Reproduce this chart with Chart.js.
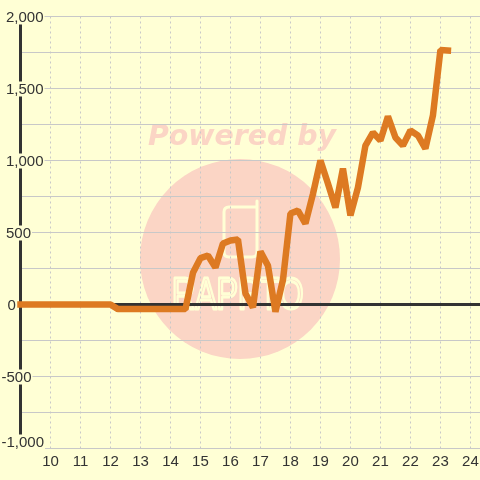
<!DOCTYPE html>
<html>
<head>
<meta charset="utf-8">
<style>
  html, body { margin: 0; padding: 0; background: #ffffd5; }
  #chartWrap { width: 480px; height: 480px; }
</style>
<script src="https://cdn.jsdelivr.net/npm/chart.js@4"></script>
</head>
<body>
<div id="chartWrap"><canvas id="priceChart" width="480" height="480"></canvas></div>
<script>
const hours = [
  9, 9.25, 9.5, 9.75, 10, 10.25, 10.5, 10.75, 11, 11.25, 11.5, 11.75,
  12, 12.25, 12.5, 12.75, 13, 13.25, 13.5, 13.75, 14, 14.25, 14.5, 14.75,
  15, 15.25, 15.5, 15.75, 16, 16.25, 16.5, 16.75, 17, 17.25, 17.5, 17.75,
  18, 18.25, 18.5, 18.75, 19, 19.25, 19.5, 19.75, 20, 20.25, 20.5, 20.75,
  21, 21.25, 21.5, 21.75, 22, 22.25, 22.5, 22.75, 23, 23.25
];
const profit = [
  0, 0, 0, 0, 0, 0, 0, 0, 0, 0, 0, 0,
  0, -32, -32, -32, -32, -32, -32, -32, -32, -32, -32, 220,
  322, 340, 257, 423, 444, 451, 76, -20, 368, 270, -50, 170,
  632, 652, 562, 767, 1000, 840, 673, 944, 618, 812, 1104, 1194,
  1139, 1306, 1160, 1104, 1208, 1174, 1083, 1312, 1767, 1764
];
const xTickLabels = ['10', '11', '12', '13', '14', '15', '16', '17', '18', '19', '20', '21', '22', '23', '24'];
const yTickValues = [2000, 1500, 1000, 500, 0, -500, -1000];
const yTickLabels = ['2,000', '1,500', '1,000', '500', '0', '-500', '-1,000'];

const PAGE_BG = '#ffffd5';
const GRID = '#c8c8c8';
const INK = '#333333';
const LABEL_FONT = '15px "Liberation Sans", Arial, sans-serif';
const MARK = '#fbd5c5';

// Watermark sits behind the grid
const watermark = {
  id: 'watermark',
  beforeDraw(chart) {
    const c = chart.ctx;
    c.save();
    c.fillStyle = PAGE_BG;
    c.fillRect(0, 0, chart.width, chart.height);
    c.fillStyle = MARK;
    c.beginPath();
    c.arc(240, 259, 100, 0, Math.PI * 2);
    c.fill();
    c.font = 'italic bold 28.4px "DejaVu Sans", sans-serif';
    c.textAlign = 'left';
    c.textBaseline = 'alphabetic';
    c.fillText('Powered by', 148, 145);
    c.strokeStyle = PAGE_BG;
    c.lineWidth = 3;
    c.lineJoin = 'round';
    c.lineCap = 'round';
    c.beginPath();
    c.moveTo(257, 201);
    c.lineTo(257, 252);
    c.quadraticCurveTo(257, 257, 252, 257);
    c.lineTo(229, 257);
    c.quadraticCurveTo(224, 257, 224, 252);
    c.lineTo(224, 212);
    c.quadraticCurveTo(224, 207, 229, 207);
    c.lineTo(257, 207);
    c.stroke();
    // logo lettering is tall and narrow
    c.translate(172, 309);
    c.scale(0.73, 1);
    c.font = '44px "Liberation Sans", sans-serif';
    c.lineWidth = 3;
    c.strokeText('RAPPTO', 0, 0);
    c.restore();
  }
};

// Y labels carry their own background box, which cuts the axis and the grid
const yLabels = {
  id: 'yLabels',
  beforeDatasetsDraw(chart) {
    const c = chart.ctx;
    const y = chart.scales.y;
    c.save();
    c.font = LABEL_FONT;
    c.textBaseline = 'middle';
    c.textAlign = 'left';
    yTickValues.forEach(function (v, i) {
      const text = yTickLabels[i];
      let py = y.getPixelForValue(v);
      if (v === y.min) py -= 7;
      const negative = text.charAt(0) === '-';
      const left = negative ? 1.5 : (text.length === 1 ? 7.5 : 6);
      const w = c.measureText(text).width;
      c.fillStyle = PAGE_BG;
      c.fillRect(left - 1, py - 7, w + 2, 15);
      c.fillStyle = INK;
      c.fillText(text, left, py + 1);
    });
    c.restore();
  }
};

document.addEventListener('DOMContentLoaded', function () {
  const ctx = document.getElementById('priceChart').getContext('2d');
  new Chart(ctx, {
    type: 'line',
    plugins: [watermark, yLabels],
    data: {
      datasets: [{
        data: hours.map(function (h, i) { return { x: h, y: profit[i] }; }),
        borderColor: '#dd7a22',
        borderWidth: 6.5,
        borderCapStyle: 'square',
        borderJoinStyle: 'bevel',
        pointRadius: 0,
        tension: 0,
        fill: false,
        clip: false
      }]
    },
    options: {
      responsive: false,
      animation: false,
      layout: { padding: { top: 16.5, left: 0, right: 0, bottom: 0 } },
      plugins: { legend: { display: false }, tooltip: { enabled: false } },
      scales: {
        x: {
          type: 'linear',
          min: 9,
          max: 24.32,
          afterFit(scale) {
            scale.height = 31.5;
            scale.paddingLeft = 0;
            scale.paddingRight = 0;
          },
          afterBuildTicks(scale) {
            scale.ticks = xTickLabels.map(function (t) { return { value: Number(t) }; });
          },
          border: { display: false, dash: [2, 3] },
          grid: { color: GRID, lineWidth: 1, drawTicks: false },
          ticks: {
            color: INK,
            font: { family: '"Liberation Sans", Arial, sans-serif', size: 15 },
            padding: 4,
            maxRotation: 0,
            autoSkip: false,
            callback(v) { return String(v); }
          }
        },
        y: {
          min: -1000,
          max: 2000,
          afterFit(scale) { scale.width = 20.5; },
          border: { display: true, color: INK, width: 3 },
          grid: {
            drawTicks: false,
            color(c) { return c.tick.value === 0 ? INK : GRID; },
            lineWidth(c) { return c.tick.value === 0 ? 3 : 1; }
          },
          ticks: { display: false, stepSize: 250 }
        }
      }
    }
  });
});
</script>
</body>
</html>
